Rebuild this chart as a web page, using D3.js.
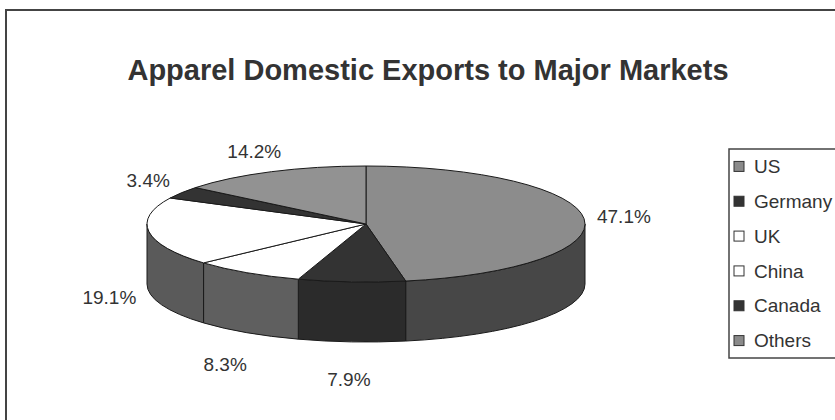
<!DOCTYPE html>
<html>
<head>
<meta charset="utf-8">
<script src="https://cdn.jsdelivr.net/npm/d3@7"></script>
<style>
  body { margin: 0; background: #fff; }
  text { font-family: "Liberation Sans", Arial, sans-serif; fill: #333; }
</style>
</head>
<body>
<script>
// chart values
var categories = ["US", "Germany", "UK", "China", "Canada", "Others"];
var shares = [47.1, 7.9, 8.3, 19.1, 3.4, 14.2];
var topColors = ["#8c8c8c", "#333333", "#ffffff", "#ffffff", "#333333", "#929292"];
var sideColors = ["#474747", "#2b2b2b", "#5f5f5f", "#5a5a5a", "#2b2b2b", "#555555"];
var swatchColors = ["#8a8a8a", "#333333", "#ffffff", "#ffffff", "#333333", "#8a8a8a"];

var w = 835, h = 420;

// ellipse geometry of the 3d pie
var cx = 366, cy = 224, rx = 219, ry = 58, depth = 60;

var svg = d3.select("body").append("svg")
    .attr("width", w)
    .attr("height", h);

// outer frame
svg.append("rect")
    .attr("x", 6).attr("y", 10)
    .attr("width", 860).attr("height", 440)
    .attr("fill", "none")
    .attr("stroke", "#444")
    .attr("stroke-width", 2);

svg.append("text")
    .attr("x", 428).attr("y", 80)
    .attr("text-anchor", "middle")
    .style("font-size", "29px")
    .style("font-weight", "bold")
    .text("Apparel Domestic Exports to Major Markets");

var pie = d3.pie().sort(null).startAngle(0).endAngle(2 * Math.PI);
var arcs = pie(shares);

function pt(a, dz) {
    return [cx + rx * Math.sin(a), cy - ry * Math.cos(a) + (dz || 0)];
}

// side walls (only the front half is visible)
arcs.forEach(function(d, i) {
    var s = Math.max(d.startAngle, Math.PI / 2);
    var e = Math.min(d.endAngle, 3 * Math.PI / 2);
    if (s >= e) return;
    var a = pt(s), b = pt(e), c = pt(e, depth), f = pt(s, depth);
    var path = "M" + a + " A" + rx + " " + ry + " 0 0 1 " + b +
        " L" + c + " A" + rx + " " + ry + " 0 0 0 " + f + " Z";
    svg.append("path")
        .attr("d", path)
        .attr("fill", sideColors[i])
        .attr("stroke", "#1a1a1a")
        .attr("stroke-width", 1);
});

// top faces
svg.selectAll("path.top")
    .data(arcs)
    .enter()
    .append("path")
    .attr("class", "top")
    .attr("d", function(d) {
        var a = pt(d.startAngle), b = pt(d.endAngle);
        var large = (d.endAngle - d.startAngle) > Math.PI ? 1 : 0;
        return "M" + cx + "," + cy + " L" + a + " A" + rx + " " + ry + " 0 " + large + " 1 " + b + " Z";
    })
    .attr("fill", function(d, i) { return topColors[i]; })
    .attr("stroke", "#1a1a1a")
    .attr("stroke-width", 1);

// percentage labels outside the pie
var gap = 13, hw = 27, hh = 10;
svg.selectAll("text.pct")
    .data(arcs)
    .enter()
    .append("text")
    .attr("class", "pct")
    .attr("text-anchor", "middle")
    .attr("dy", "0.35em")
    .style("font-size", "19px")
    .attr("x", function(d) {
        var m = (d.startAngle + d.endAngle) / 2;
        return cx + (rx + gap + hw) * Math.sin(m);
    })
    .attr("y", function(d) {
        var m = (d.startAngle + d.endAngle) / 2;
        var c = Math.cos(m);
        if (c < 0) return cy - (ry + gap + hh + 15) * c + depth;
        return cy - (ry + gap + hh) * c;
    })
    .text(function(d) { return d.data.toFixed(1) + "%"; });

// legend
var legY = d3.scaleBand().domain(categories).range([149, 358]);

svg.append("rect")
    .attr("x", 729).attr("y", 149)
    .attr("width", 200).attr("height", 209)
    .attr("fill", "#fff")
    .attr("stroke", "#444")
    .attr("stroke-width", 1.5);

var leg = svg.selectAll("g.leg")
    .data(categories)
    .enter()
    .append("g")
    .attr("class", "leg")
    .attr("transform", function(d) {
        return "translate(734," + (legY(d) + legY.bandwidth() / 2) + ")";
    });

leg.append("rect")
    .attr("x", 0).attr("y", -5)
    .attr("width", 10).attr("height", 10)
    .attr("fill", function(d, i) { return swatchColors[i]; })
    .attr("stroke", "#333")
    .attr("stroke-width", 1);

leg.append("text")
    .attr("x", 20)
    .attr("dy", "0.35em")
    .style("font-size", "19px")
    .text(function(d) { return d; });
</script>
</body>
</html>
